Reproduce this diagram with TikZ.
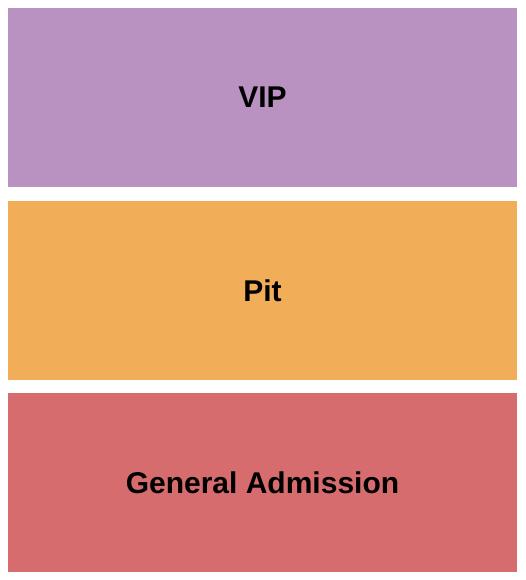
\documentclass[tikz,border=0pt]{standalone}
\usepackage{fontspec}
\setmainfont{Liberation Sans}
\definecolor{vipcol}{HTML}{B992C1}
\definecolor{pitcol}{HTML}{F2AD58}
\definecolor{gacol}{HTML}{D66C6D}
\tikzset{
  section/.style={rectangle,draw=none,minimum width=509pt,minimum height=179pt,inner sep=0pt,
    font=\fontsize{30}{34}\selectfont\bfseries,text=black}
}

\begin{document}
\begin{tikzpicture}[x=1pt,y=-1pt]
                    \useasboundingbox[fill=white] (0,0) rectangle (525,580);
                    \node[section,fill=vipcol](VIP) at (262.5,97.5){VIP};
                    \node[section,fill=pitcol](Pit) at (262.5,290.5){Pit};
                    \node[section,fill=gacol](GA) at (262.5,482.5){General Admission};
                \end{tikzpicture}
\end{document}
